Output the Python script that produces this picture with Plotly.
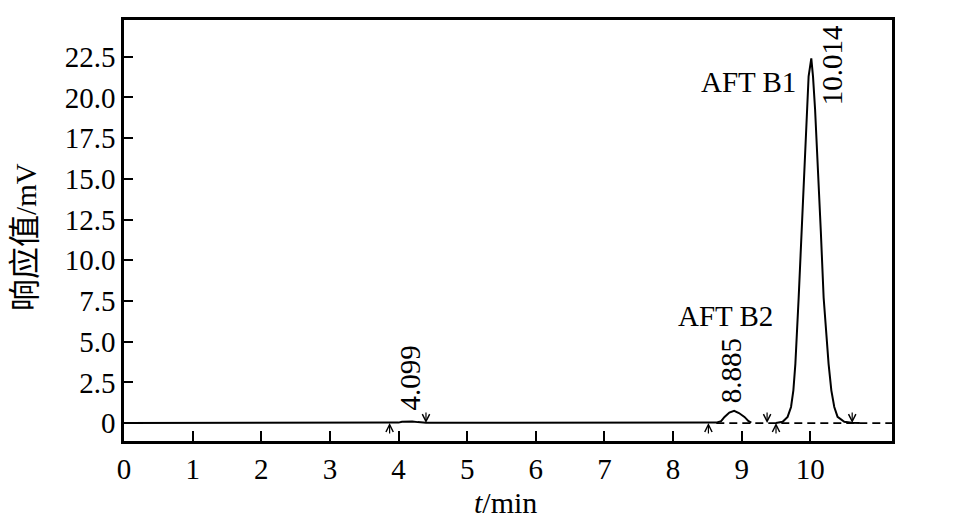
import plotly.graph_objects as go

# chromatogram (time in min, response in mV); None = gap in trace
time_min = [0.0, 1.0, 2.0, 3.0, 3.87, 4.00, 4.05, 4.10, 4.20, 4.28, 4.40, 5.0, 6.0, 7.0, 8.0, 8.5,
            8.63, 8.70, 8.75, 8.82, 8.89, 8.96, 9.04, 9.10, 9.14, 9.30,
            9.50, 9.597, 9.669, 9.719, 9.753, 9.782, 9.830, 9.873, 9.902, 9.946, 9.975, 10.014,
            10.039, 10.069, 10.117, 10.153, 10.194, 10.266, 10.306, 10.349, 10.397, 10.495, 10.60, 10.72]
response_mv = [0.0, 0.0, 0.0, 0.0, 0.0, 0.03, 0.08, 0.10, 0.10, 0.06, 0.02, 0.02, 0.02, 0.01, 0.01, 0.02,
               0.03, 0.12, 0.38, 0.65, 0.75, 0.62, 0.38, 0.12, 0.03, None,
               0.0, 0.08, 0.38, 0.99, 2.01, 3.64, 7.70, 11.77, 15.24, 19.29, 21.3, 22.4,
               21.3, 19.29, 15.24, 11.77, 7.70, 3.64, 2.01, 0.99, 0.38, 0.08, 0.02, 0.0]

baseline_t = [8.63, 11.2]
baseline_y = [0.0, 0.0]

arrow_up_t = [3.87, 8.515, 9.50]
arrow_down_t = [4.40, 9.37, 10.61]

peak_labels = ["4.099", "8.885", "10.014"]
compound_labels = ["AFT B2", "AFT B1"]

x_ticks = list(range(0, 11))
y_ticks = [0, 2.5, 5, 7.5, 10, 12.5, 15, 17.5, 20, 22.5]
y_ticktext = ["0", "2.5", "5.0", "7.5", "10.0", "12.5", "15.0", "17.5", "20.0", "22.5"]

FONT = "Liberation Serif"
CJK = "Liberation Serif, Noto Sans CJK SC"

fig = go.Figure()
fig.add_trace(go.Scatter(x=baseline_t, y=baseline_y, mode="lines",
                         line=dict(color="black", width=1.8, dash="8px,5px"),
                         hoverinfo="skip"))
fig.add_trace(go.Scatter(x=time_min, y=response_mv, mode="lines",
                         line=dict(color="black", width=2), connectgaps=False))

anns = []
for t in arrow_up_t:
    anns.append(dict(x=t, y=0, ax=0, ay=12, showarrow=True, arrowhead=5,
                     arrowsize=1.2, arrowwidth=1.2, arrowcolor="black", text=""))
for t in arrow_down_t:
    anns.append(dict(x=t, y=0, ax=0, ay=-12, showarrow=True, arrowhead=5,
                     arrowsize=1.2, arrowwidth=1.2, arrowcolor="black", text=""))

# retention time labels, rotated
label_pos = [(4.16, 2.77), (8.84, 3.23), (10.32, 22.0)]
for (lx, ly), txt in zip(label_pos, peak_labels):
    anns.append(dict(x=lx, y=ly, text=txt, showarrow=False, textangle=-90,
                     xanchor="center", yanchor="middle",
                     font=dict(size=29, color="black", family=FONT)))

anns.append(dict(x=8.76, y=6.6, text=compound_labels[0], showarrow=False,
                 xanchor="center", yanchor="middle",
                 font=dict(size=29, color="black", family=FONT)))
anns.append(dict(x=9.105, y=20.95, text=compound_labels[1], showarrow=False,
                 xanchor="center", yanchor="middle",
                 font=dict(size=29, color="black", family=FONT)))

# axis titles
anns.append(dict(xref="paper", yref="paper", x=-0.128, y=0.484,
                 text='响应值<span style="font-size:29px">/mV</span>',
                 showarrow=False, textangle=-90, xanchor="center", yanchor="middle",
                 font=dict(size=32, color="black", family=CJK)))
anns.append(dict(xref="paper", yref="paper", x=0.497, y=-0.146, text="<i>t</i>/min",
                 showarrow=False, xanchor="center", yanchor="middle",
                 font=dict(size=30, color="black", family=FONT)))

fig.update_layout(
    width=959, height=522,
    margin=dict(l=116, r=75, t=9, b=89),
    paper_bgcolor="white", plot_bgcolor="white",
    showlegend=False,
    font=dict(family=FONT, size=29, color="black"),
    annotations=anns,
)
fig.update_xaxes(range=[0, 11.19], tickvals=x_ticks, ticks="inside", ticklen=10,
                 tickwidth=1.5, tickcolor="black", showline=True, mirror=True,
                 linecolor="black", linewidth=2.5, showgrid=False, zeroline=False)
fig.update_yaxes(range=[-1.1, 24.76], tickvals=y_ticks, ticktext=y_ticktext,
                 ticks="inside", ticklen=9, tickwidth=1.5, tickcolor="black",
                 showline=True, mirror=True, linecolor="black", linewidth=2.5,
                 showgrid=False, zeroline=False)

fig.write_html("out.html")
